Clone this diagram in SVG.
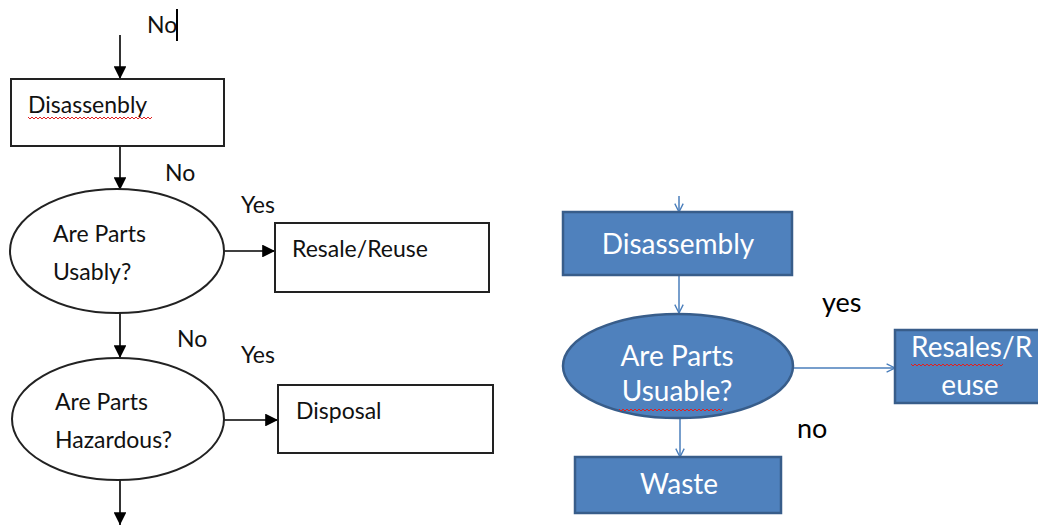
<svg xmlns="http://www.w3.org/2000/svg" width="1038" height="527" viewBox="0 0 1038 527">
  <style>
    .lbl { font-family: Lato, "Open Sans", sans-serif; font-size: 23px; fill: #111; }
    .wl { font-family: Lato, "Open Sans", sans-serif; font-size: 28px; fill: #fff; text-anchor: middle; }
    .bl { font-family: Lato, "Open Sans", sans-serif; font-size: 27px; fill: #000; }
    .box { fill: #fff; stroke: #222; stroke-width: 2; }
    .blue { fill: #4F81BD; stroke: #385D8A; stroke-width: 2.5; }
    .blk { stroke: #000; stroke-width: 1.6; fill: none; marker-end: url(#solid); }
    .bln { stroke: #4A7EBB; stroke-width: 1.5; fill: none; marker-end: url(#open); }
    .sq { stroke: #e02020; stroke-width: 1; fill: none; }
  </style>
  <defs>
    <marker id="solid" viewBox="0 0 10 10" refX="10" refY="5" markerWidth="8" markerHeight="8" orient="auto" markerUnits="strokeWidth">
      <path d="M0,0 L10,5 L0,10 Z" fill="#000"/>
    </marker>
    <marker id="open" viewBox="0 0 10 10" refX="9" refY="5" markerWidth="7" markerHeight="7" orient="auto" markerUnits="strokeWidth">
      <path d="M1,1 L9,5 L1,9" fill="none" stroke="#4A7EBB" stroke-width="1.3"/>
    </marker>
  </defs>

  <!-- connectors -->
  <g id="connectors">
    <line class="blk" x1="120" y1="35" x2="120" y2="79"/>
    <line class="blk" x1="120" y1="147" x2="120" y2="190"/>
    <line class="blk" x1="224" y1="251" x2="275" y2="251"/>
    <line class="blk" x1="120" y1="313" x2="120" y2="358"/>
    <line class="blk" x1="224" y1="420" x2="278" y2="420"/>
    <line class="blk" x1="120" y1="480" x2="120" y2="525"/>

    <line class="bln" x1="679" y1="196" x2="679" y2="212"/>
    <line class="bln" x1="679" y1="275" x2="679" y2="313"/>
    <line class="bln" x1="792" y1="368" x2="895" y2="368"/>
    <line class="bln" x1="680" y1="418" x2="680" y2="457"/>
  </g>

  <!-- edge labels -->
  <g id="labels">
    <text class="lbl" x="147" y="33">No</text>
    <line x1="177" y1="9" x2="177" y2="41" stroke="#000" stroke-width="2"/>
    <text class="lbl" x="165" y="181">No</text>
    <text class="lbl" x="241" y="213">Yes</text>
    <text class="lbl" x="177" y="347">No</text>
    <text class="lbl" x="241" y="363">Yes</text>
    <text class="bl" x="822" y="312">yes</text>
    <text class="bl" x="797" y="438">no</text>
  </g>

  <!-- left flow -->
  <g id="l-disassenbly">
    <rect class="box" x="11" y="79" width="213" height="67"/>
    <text class="lbl" x="28" y="113">Disassenbly</text>
    <path class="sq" d="M28,117 l2,2 l2,-2 l2,2 l2,-2 l2,2 l2,-2 l2,2 l2,-2 l2,2 l2,-2 l2,2 l2,-2 l2,2 l2,-2 l2,2 l2,-2 l2,2 l2,-2 l2,2 l2,-2 l2,2 l2,-2 l2,2 l2,-2 l2,2 l2,-2 l2,2 l2,-2 l2,2 l2,-2 l2,2 l2,-2 l2,2 l2,-2 l2,2 l2,-2 l2,2 l2,-2 l2,2 l2,-2 l2,2 l2,-2 l2,2 l2,-2 l2,2 l2,-2 l2,2 l2,-2 l2,2 l2,-2 l2,2 l2,-2 l2,2 l2,-2 l2,2 l2,-2 l2,2 l2,-2 l2,2 l2,-2 l2,2 l2,-2"/>
  </g>
  <g id="l-usably">
    <ellipse class="box" cx="117" cy="251" rx="107" ry="62"/>
    <text class="lbl" x="53" y="242">Are Parts</text>
    <text class="lbl" x="53" y="280">Usably?</text>
  </g>
  <g id="l-resale">
    <rect class="box" x="275" y="223" width="214" height="69"/>
    <text class="lbl" x="292" y="257">Resale/Reuse</text>
  </g>
  <g id="l-hazardous">
    <ellipse class="box" cx="118" cy="419" rx="106" ry="61"/>
    <text class="lbl" x="55" y="410">Are Parts</text>
    <text class="lbl" x="55" y="448">Hazardous?</text>
  </g>
  <g id="l-disposal">
    <rect class="box" x="278" y="385" width="215" height="68"/>
    <text class="lbl" x="296" y="419">Disposal</text>
  </g>

  <!-- right flow -->
  <g id="r-disassembly">
    <rect class="blue" x="563" y="212" width="229" height="63"/>
    <text class="wl" x="678" y="254">Disassembly</text>
  </g>
  <g id="r-usuable">
    <ellipse class="blue" cx="678" cy="366" rx="115" ry="52"/>
    <text class="wl" x="677" y="366">Are Parts</text>
    <text class="wl" x="677" y="401">Usuable?</text>
    <path class="sq" d="M619,409 l2,2 l2,-2 l2,2 l2,-2 l2,2 l2,-2 l2,2 l2,-2 l2,2 l2,-2 l2,2 l2,-2 l2,2 l2,-2 l2,2 l2,-2 l2,2 l2,-2 l2,2 l2,-2 l2,2 l2,-2 l2,2 l2,-2 l2,2 l2,-2 l2,2 l2,-2 l2,2 l2,-2 l2,2 l2,-2 l2,2 l2,-2 l2,2 l2,-2 l2,2 l2,-2 l2,2 l2,-2 l2,2 l2,-2 l2,2 l2,-2 l2,2 l2,-2 l2,2 l2,-2 l2,2 l2,-2 l2,2 l2,-2"/>
  </g>
  <g id="r-resales">
    <rect class="blue" x="895" y="330" width="160" height="73"/>
    <text class="wl" x="911" y="357" style="text-anchor:start">Resales/R</text>
    <text class="wl" x="970" y="395">euse</text>
    <path class="sq" d="M911,364 l2,2 l2,-2 l2,2 l2,-2 l2,2 l2,-2 l2,2 l2,-2 l2,2 l2,-2 l2,2 l2,-2 l2,2 l2,-2 l2,2 l2,-2 l2,2 l2,-2 l2,2 l2,-2 l2,2 l2,-2 l2,2 l2,-2 l2,2 l2,-2 l2,2 l2,-2 l2,2 l2,-2 l2,2 l2,-2 l2,2 l2,-2 l2,2 l2,-2 l2,2 l2,-2 l2,2 l2,-2 l2,2 l2,-2 l2,2 l2,-2 l2,2 l2,-2"/>
  </g>
  <g id="r-waste">
    <rect class="blue" x="575" y="457" width="206" height="56"/>
    <text class="wl" x="679" y="494">Waste</text>
  </g>
</svg>
